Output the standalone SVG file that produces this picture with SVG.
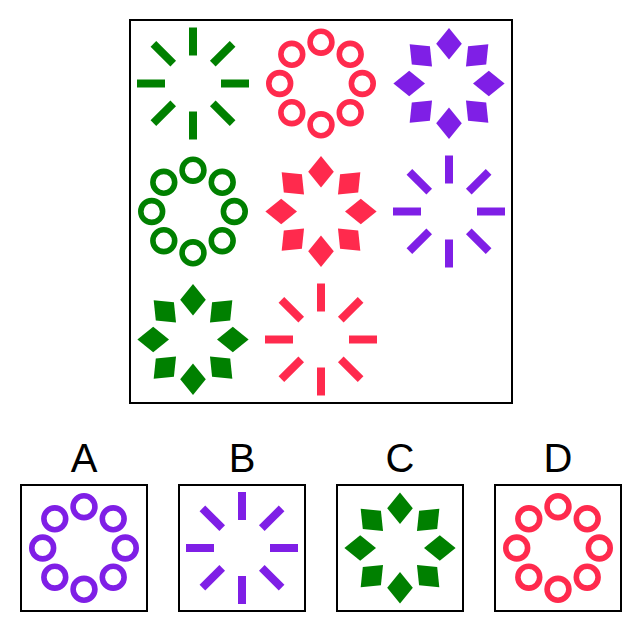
<svg xmlns="http://www.w3.org/2000/svg" xmlns:xlink="http://www.w3.org/1999/xlink" width="642" height="632" viewBox="0 0 642 632">
<style>
.box{fill:none;stroke:#000;stroke-width:2}
.lbl{font-family:"Liberation Sans",Arial,sans-serif;font-size:40px;fill:#000;text-anchor:middle}
.g{fill:#008000;stroke:#008000}
.r{fill:#ff2a4d;stroke:#ff2a4d}
.p{fill:#7f1fe6;stroke:#7f1fe6}
</style>
<defs>
<line id="ln" x1="0" y1="-28" x2="0" y2="-56" stroke-width="8"/>
<circle id="ci" cx="0" cy="-41.3" r="10.9" fill="none" stroke-width="5.6"/>
<path id="dm" d="M0,-55.6 L12.8,-39.8 L0,-24 L-12.8,-39.8 Z" stroke="none"/>
<g id="rays">
<use xlink:href="#ln"/><use xlink:href="#ln" transform="rotate(45)"/><use xlink:href="#ln" transform="rotate(90)"/><use xlink:href="#ln" transform="rotate(135)"/><use xlink:href="#ln" transform="rotate(180)"/><use xlink:href="#ln" transform="rotate(225)"/><use xlink:href="#ln" transform="rotate(270)"/><use xlink:href="#ln" transform="rotate(315)"/>
</g>
<g id="ring">
<use xlink:href="#ci"/><use xlink:href="#ci" transform="rotate(45)"/><use xlink:href="#ci" transform="rotate(90)"/><use xlink:href="#ci" transform="rotate(135)"/><use xlink:href="#ci" transform="rotate(180)"/><use xlink:href="#ci" transform="rotate(225)"/><use xlink:href="#ci" transform="rotate(270)"/><use xlink:href="#ci" transform="rotate(315)"/>
</g>
<g id="dia">
<use xlink:href="#dm"/><use xlink:href="#dm" transform="rotate(45)"/><use xlink:href="#dm" transform="rotate(90)"/><use xlink:href="#dm" transform="rotate(135)"/><use xlink:href="#dm" transform="rotate(180)"/><use xlink:href="#dm" transform="rotate(225)"/><use xlink:href="#dm" transform="rotate(270)"/><use xlink:href="#dm" transform="rotate(315)"/>
</g>
</defs>
<rect width="642" height="632" fill="#fff"/>
<g id="matrix">
<rect class="box" x="130" y="20" width="382" height="383"/>
<g id="cell-1-1" class="g" transform="translate(193,83.5)"><use xlink:href="#rays"/></g>
<g id="cell-1-2" class="r" transform="translate(321,83.5)"><use xlink:href="#ring"/></g>
<g id="cell-1-3" class="p" transform="translate(449,83.5)"><use xlink:href="#dia"/></g>
<g id="cell-2-1" class="g" transform="translate(193,211.5)"><use xlink:href="#ring"/></g>
<g id="cell-2-2" class="r" transform="translate(321,211.5)"><use xlink:href="#dia"/></g>
<g id="cell-2-3" class="p" transform="translate(449,211.5)"><use xlink:href="#rays"/></g>
<g id="cell-3-1" class="g" transform="translate(193,339.5)"><use xlink:href="#dia"/></g>
<g id="cell-3-2" class="r" transform="translate(321,339.5)"><use xlink:href="#rays"/></g>
</g>
<g id="connectors"></g>
<g id="option-A">
<text class="lbl" x="84" y="472">A</text>
<rect class="box" x="21" y="485" width="126" height="126"/>
<g class="p" transform="translate(84,548)"><use xlink:href="#ring"/></g>
</g>
<g id="option-B">
<text class="lbl" x="242" y="472">B</text>
<rect class="box" x="179" y="485" width="126" height="126"/>
<g class="p" transform="translate(242,548)"><use xlink:href="#rays"/></g>
</g>
<g id="option-C">
<text class="lbl" x="400" y="472">C</text>
<rect class="box" x="337" y="485" width="126" height="126"/>
<g class="g" transform="translate(400,548)"><use xlink:href="#dia"/></g>
</g>
<g id="option-D">
<text class="lbl" x="558" y="472">D</text>
<rect class="box" x="495" y="485" width="126" height="126"/>
<g class="r" transform="translate(558,548)"><use xlink:href="#ring"/></g>
</g>
</svg>
